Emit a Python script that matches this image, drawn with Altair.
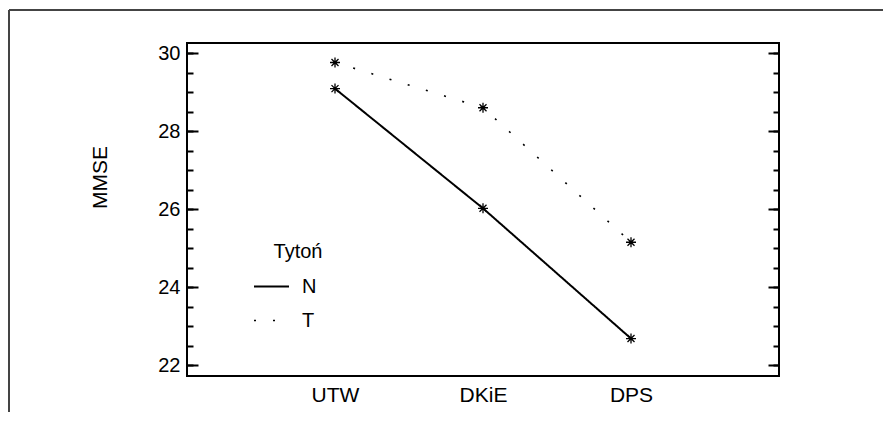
import altair as alt
import pandas as pd

# ---- data ----
categories = ["UTW", "DKiE", "DPS"]
series_names = ["N", "T"]
values_N = [29.09, 26.02, 22.68]
values_T = [29.76, 28.6, 25.15]
y_major_ticks = [22, 24, 26, 28, 30]
y_minor_ticks = [22, 22.5, 23, 23.5, 24, 24.5, 25, 25.5, 26, 26.5, 27, 27.5,
                 28, 28.5, 29, 29.5, 30]
legend_title = "Tytoń"
y_title = "MMSE"

rows = []
for name, vals in zip(series_names, [values_N, values_T]):
    for c, v in zip(categories, vals):
        rows.append({"grupa": c, "Tyton": name, "MMSE": v})
df = pd.DataFrame(rows)
one = pd.DataFrame({"k": [0]})

FONT = "Liberation Sans"
W, H = 592, 333
PAD_L, PAD_T, PAD_R, PAD_B = 179, 35, 104, 36

xscale = alt.Scale(type="point", domain=categories, padding=1.12)
yscale = alt.Scale(domain=[21.72, 30.26], nice=False, zero=False)

x_axis = alt.Axis(title=None, ticks=False, domain=False, grid=False,
                  labelFontSize=21, labelFont=FONT, labelColor="black",
                  labelPadding=8, labelAngle=0)
x_enc = alt.X("grupa:N", scale=xscale, sort=categories, axis=x_axis)

left_major = alt.Axis(orient="left", values=y_major_ticks, offset=-11, tickSize=11,
                      tickWidth=2, tickColor="black", domain=False, grid=False,
                      labelFontSize=20, labelFont=FONT, labelColor="black",
                      labelPadding=7, format="d",
                      title=y_title, titleFont=FONT, titleFontSize=21,
                      titleFontWeight="normal", titleColor="black",
                      titleAngle=270, titleAlign="center", titleBaseline="middle",
                      titleX=-98, titleY=134)

lines = alt.Chart(df).mark_line(color="black").encode(
    x=x_enc,
    y=alt.Y("MMSE:Q", scale=yscale, axis=left_major),
    strokeDash=alt.StrokeDash(
        "Tyton:N",
        scale=alt.Scale(domain=series_names, range=[[1, 0], [2, 17]]),
        legend=alt.Legend(title=None, orient="none", legendX=66, legendY=225,
                          symbolType="stroke", symbolSize=1225,
                          symbolStrokeWidth=1.6, symbolStrokeColor="black",
                          labelFont=FONT, labelFontSize=20, labelColor="black",
                          labelOffset=12, rowPadding=5, padding=0),
    ),
    strokeWidth=alt.StrokeWidth("Tyton:N",
                                scale=alt.Scale(domain=series_names, range=[2, 1.6]),
                                legend=None),
)

asterisk = "M-1,0L1,0M0,-1L0,1M-0.7,-0.7L0.7,0.7M-0.7,0.7L0.7,-0.7"
points = alt.Chart(df).mark_point(shape=asterisk, size=100, filled=False,
                                  stroke="black", strokeWidth=1.3, opacity=1).encode(
    x=x_enc,
    y=alt.Y("MMSE:Q", scale=yscale, axis=None),
)

def tick_layer(orient, values, size):
    return alt.Chart(df).mark_point(opacity=0).encode(
        y=alt.Y("MMSE:Q", scale=yscale,
                axis=alt.Axis(orient=orient, values=values, offset=-size, tickSize=size,
                              tickWidth=2, tickColor="black", domain=False,
                              labels=False, grid=False, title=None)))

left_minor = tick_layer("left", y_minor_ticks, 6)
right_major = tick_layer("right", y_major_ticks, 11)
right_minor = tick_layer("right", y_minor_ticks, 6)

title_text = alt.Chart(one).mark_text(text=legend_title, font=FONT, fontSize=20,
                                      align="center", baseline="alphabetic",
                                      color="black").encode(
    x=alt.value(111), y=alt.value(215))

frame_top = alt.Chart(one).mark_rule(color="#444444", strokeWidth=2).encode(
    x=alt.value(-178), x2=alt.value(W + PAD_R), y=alt.value(-33))
frame_left = alt.Chart(one).mark_rule(color="#444444", strokeWidth=2).encode(
    x=alt.value(-178), y=alt.value(-33), y2=alt.value(H + PAD_B))

chart = alt.layer(
    lines, points, left_minor, right_major, right_minor, title_text, frame_top, frame_left
).resolve_scale(y="shared", x="shared").resolve_axis(y="independent", x="shared").properties(
    width=W, height=H,
    autosize=alt.AutoSizeParams(type="none"),
    padding={"left": PAD_L, "top": PAD_T, "right": PAD_R, "bottom": PAD_B},
).configure(background="white").configure_view(stroke="black", strokeWidth=2)

chart.save("out.html", embed_options={"renderer": "svg", "actions": False})
